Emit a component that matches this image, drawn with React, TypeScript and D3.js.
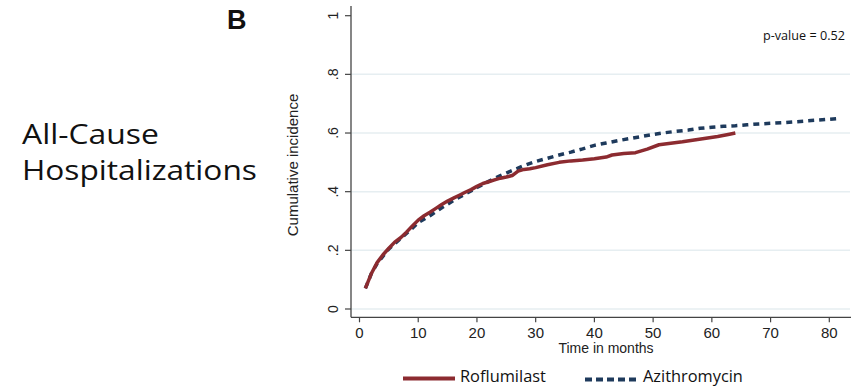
import React, { useLayoutEffect, useRef, useState } from "react";
import * as d3 from "d3";

const rofMonths = [1,2,3,4,5,6,7,8,9,10,11,12,13,14,15,16,17,18,19,20,21,22,23,24,25,26,27,28,29,30,32,34,36,38,40,42,43,45,47,49,51,53,55,57,59,61,63,64];
const rofValues = [0.07,0.12,0.158,0.185,0.207,0.228,0.243,0.262,0.283,0.303,0.318,0.33,0.343,0.356,0.368,0.378,0.388,0.398,0.407,0.418,0.428,0.434,0.44,0.446,0.45,0.455,0.47,0.476,0.478,0.482,0.492,0.5,0.505,0.508,0.512,0.518,0.525,0.53,0.533,0.545,0.56,0.565,0.57,0.576,0.582,0.588,0.596,0.6];

const aziMonths = [1,2,3,5,7,9,10,12,14,16,18,20,22,24,26,28,30,32,34,36,38,40,42,44,46,48,50,52,54,56,58,60,62,64,66,68,70,72,74,76,78,80,82];
const aziValues = [0.07,0.12,0.155,0.205,0.24,0.275,0.295,0.318,0.345,0.37,0.392,0.414,0.435,0.455,0.472,0.489,0.503,0.514,0.525,0.535,0.546,0.558,0.566,0.574,0.581,0.588,0.595,0.601,0.606,0.61,0.616,0.62,0.623,0.625,0.628,0.631,0.633,0.635,0.638,0.641,0.644,0.647,0.65];

const xTicks = [0,10,20,30,40,50,60,70,80];
const yTicks = [0,0.2,0.4,0.6,0.8,1];
const yTickLabels = ["0",".2",".4",".6",".8","1"];
const gridTicks = [0,0.2,0.4,0.6,0.8];

const RED = "#8c2b30";
const NAVY = "#1e3a5c";
const HUMAN = "Open Sans, Lato, Noto Sans";
const ARIAL = "Liberation Sans, Arial";

function FitText({ x, y, width, size, children }: { x: number; y: number; width: number; size: number; children: string }) {
  const ref = useRef<SVGTextElement>(null);
  const [sx, setSx] = useState(1);
  useLayoutEffect(() => {
    if (ref.current) {
      const w = ref.current.getComputedTextLength();
      if (w > 0) setSx(width / w);
    }
  }, [width, children]);
  return (
    <text ref={ref} transform={`translate(${x},${y}) scale(${sx},1)`} fontFamily={HUMAN} fontSize={size} fill="#111">{children}</text>
  );
}

export default function App() {
  const x = d3.scaleLinear().domain([0, 80]).range([359.5, 829.3]);
  const y = d3.scaleLinear().domain([0, 1]).range([309, 15.7]);
  const axisX = 351;
  const axisY = 317.3;
  const line = d3.line<[number, number]>().x(d => x(d[0])).y(d => y(d[1]));
  const rof = line(rofMonths.map((m, i) => [m, rofValues[i]]));
  const azi = line(aziMonths.map((m, i) => [m, aziValues[i]]));

  return (
    <svg width={853} height={388} style={{ position: "absolute", left: 0, top: 0, background: "#fff" }}>
      <rect x={0} y={0} width={853} height={388} fill="#fff" />
      <text x={227} y={28.5} fontFamily={ARIAL} fontWeight="bold" fontSize={27} fill="#111">B</text>
      <FitText x={22} y={143.5} width={137} size={28}>All-Cause</FitText>
      <FitText x={22} y={180} width={235} size={28}>Hospitalizations</FitText>

      {gridTicks.map(t => (
        <line key={t} x1={axisX} x2={850} y1={y(t)} y2={y(t)} stroke="#e6eef1" strokeWidth={1.5} />
      ))}

      <line x1={axisX} x2={axisX} y1={6} y2={axisY} stroke="#444" strokeWidth={1.3} />
      <line x1={axisX} x2={851} y1={axisY} y2={axisY} stroke="#444" strokeWidth={1.3} />

      {yTicks.map((t, i) => (
        <g key={t}>
          <line x1={axisX - 6} x2={axisX} y1={y(t)} y2={y(t)} stroke="#444" strokeWidth={1.2} />
          <text transform={`translate(${337.5},${y(t)}) rotate(-90)`} textAnchor="middle" fontFamily={ARIAL} fontSize={14} fill="#222">{yTickLabels[i]}</text>
        </g>
      ))}
      {xTicks.map(t => (
        <g key={t}>
          <line x1={x(t)} x2={x(t)} y1={axisY} y2={axisY + 5} stroke="#444" strokeWidth={1.2} />
          <text x={x(t)} y={337.5} textAnchor="middle" fontFamily={ARIAL} fontSize={15} fill="#222">{t}</text>
        </g>
      ))}

      <text transform={`translate(${298},${165}) rotate(-90)`} textAnchor="middle" fontFamily={ARIAL} fontSize={15} fill="#222">Cumulative incidence</text>
      <text x={606} y={353} textAnchor="middle" fontFamily={ARIAL} fontSize={14} fill="#222">Time in months</text>

      <FitText x={763} y={40} width={82} size={12}>p-value = 0.52</FitText>

      <path d={azi || ""} fill="none" stroke={NAVY} strokeWidth={3.5} strokeDasharray="6 5" />
      <path d={rof || ""} fill="none" stroke={RED} strokeWidth={3.5} strokeLinejoin="round" />

      <line x1={403} x2={455} y1={378.5} y2={378.5} stroke={RED} strokeWidth={4} />
      <FitText x={460} y={382} width={86} size={16.5}>Roflumilast</FitText>
      <line x1={585} x2={638} y1={379.5} y2={379.5} stroke={NAVY} strokeWidth={4} strokeDasharray="7 4" />
      <FitText x={643} y={382} width={100} size={16.5}>Azithromycin</FitText>
    </svg>
  );
}
